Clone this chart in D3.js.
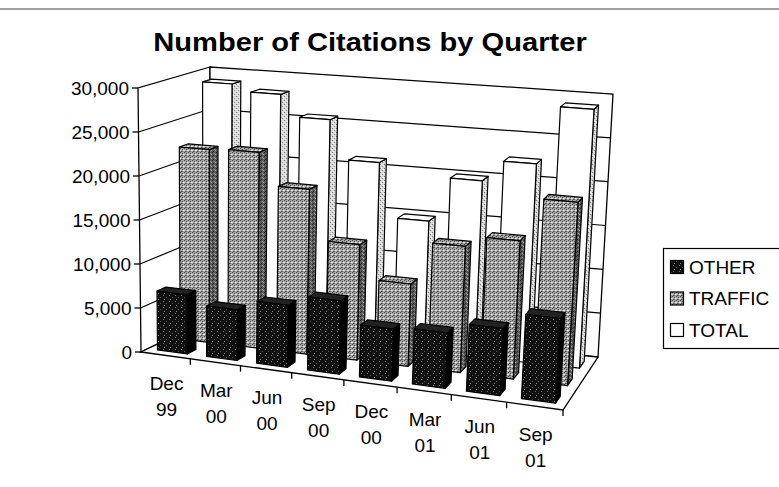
<!DOCTYPE html>
<html>
<head>
<meta charset="utf-8">
<script src="https://cdn.jsdelivr.net/npm/d3@7"></script>
<style>
  body { margin: 0; background: #fff; }
  text { font-family: Arial, "Liberation Sans", sans-serif; fill: #000; }
</style>
</head>
<body>
<svg id="chart" width="779" height="487"></svg>
<script>
// --- data ---
const categories = ["Dec 99", "Mar 00", "Jun 00", "Sep 00", "Dec 00", "Mar 01", "Jun 01", "Sep 01"];
const other   = [6700, 5700, 6900, 8100, 5700, 6000, 7200, 9000];
const traffic = [22200, 22400, 18700, 13000, 9200, 14000, 15200, 20000];
const total   = [28900, 28100, 25600, 21100, 14900, 20000, 22400, 29000];
const seriesNames = ["OTHER", "TRAFFIC", "TOTAL"];
const yTicks = [0, 5000, 10000, 15000, 20000, 25000, 30000];

// screen corners of the 3D plot box (front/back, bottom/top, left/right)
const box = {
  fbl: [141, 352], fbr: [563, 410], bbl: [210, 319], bbr: [598, 357],
  ftl: [138, 88],  ftr: [580, 125], btl: [210, 67],  btr: [613, 94]
};

const lerp = (a, b, t) => [a[0] + (b[0] - a[0]) * t, a[1] + (b[1] - a[1]) * t];
// small perspective squeeze along the category axis
const warp = u => u / (u + 1.08 * (1 - u));

// u: along categories, d: depth (0 front), h: height, all 0..1
function P(u, d, h) {
  u = warp(u);
  const b = lerp(lerp(box.fbl, box.fbr, u), lerp(box.bbl, box.bbr, u), d);
  const t = lerp(lerp(box.ftl, box.ftr, u), lerp(box.btl, box.btr, u), d);
  return lerp(b, t, h);
}
const poly = pts => "M" + pts.map(p => p[0].toFixed(1) + "," + p[1].toFixed(1)).join("L") + "Z";

const x = d3.scaleBand().domain(categories).range([0, 1]).paddingInner(0.39).paddingOuter(0.195);
const z = d3.scaleBand().domain(seriesNames).range([0, 1]).paddingInner(0.61).paddingOuter(0.305);
const y = d3.scaleLinear().domain([0, 30000]).range([0, 1]);

const svg = d3.select("#chart");

// --- textures (scanned halftone look) ---
const defs = svg.append("defs");
function texture(id, bg, dots, size) {
  const p = defs.append("pattern").attr("id", id)
    .attr("width", size).attr("height", size).attr("patternUnits", "userSpaceOnUse");
  p.append("rect").attr("width", size).attr("height", size).attr("fill", bg);
  dots.forEach(([dx, dy, c]) => p.append("rect").attr("x", dx).attr("y", dy)
    .attr("width", 1).attr("height", 1).attr("fill", c));
}
texture("grayTex", "#a4a4a4", [[0,0,"#4a4a4a"],[2,1,"#555"],[1,3,"#4a4a4a"],[3,2,"#eee"],[0,2,"#ddd"],[2,3,"#666"]], 4);
texture("grayDark", "#5c5c5c", [[0,0,"#222"],[2,1,"#999"],[1,3,"#222"],[3,2,"#aaa"]], 4);
texture("blackTex", "#111", [[1,1,"#777"],[4,3,"#555"],[2,5,"#888"]], 6);
texture("lightTex", "#d8d8d8", [[0,0,"#777"],[2,2,"#888"],[1,3,"#fff"],[3,1,"#fff"]], 4);

// outer frame
svg.append("line").attr("x1", 0).attr("x2", 779).attr("y1", 9).attr("y2", 9)
  .attr("stroke", "#444").attr("stroke-width", 1);

// title (the scan is a little stretched sideways)
svg.append("text")
  .attr("transform", "translate(370,51) scale(1.12,1)")
  .attr("text-anchor", "middle")
  .style("font-size", "26px").style("font-weight", "bold")
  .text("Number of Citations by Quarter");

// --- walls and floor ---
const walls = svg.append("g").attr("fill", "#fff").attr("stroke", "#000").attr("stroke-width", 1.3);
walls.append("path").attr("d", poly([P(0,0,0), P(0,0,1), P(0,1,1), P(0,1,0)]));
walls.append("path").attr("d", poly([P(0,1,0), P(0,1,1), P(1,1,1), P(1,1,0)]));
walls.append("path").attr("d", poly([P(0,0,0), P(1,0,0), P(1,1,0), P(0,1,0)]));

// gridlines on left and back walls
svg.append("g").selectAll("path")
  .data(yTicks.filter(t => t > 0 && t < 30000))
  .enter().append("path")
  .attr("d", t => "M" + [P(0,0,y(t)), P(0,1,y(t)), P(1,1,y(t))].map(p => p.join(",")).join("L"))
  .attr("fill", "none").attr("stroke", "#000").attr("stroke-width", 1.2);

// --- y axis ---
const yAxis = svg.append("g");
yTicks.forEach(t => {
  const p = P(0, 0, y(t));
  yAxis.append("line").attr("x1", p[0] - 6).attr("x2", p[0]).attr("y1", p[1]).attr("y2", p[1])
    .attr("stroke", "#000").attr("stroke-width", 1.3);
  yAxis.append("text").attr("x", p[0] - 9).attr("y", p[1]).attr("dy", "0.35em")
    .attr("text-anchor", "end").style("font-size", "19px")
    .text(d3.format(",")(t));
});

// --- x axis ticks and labels ---
const xAxis = svg.append("g");
const gap = (x.step() - x.bandwidth()) / 2;
categories.forEach((c, i) => {
  const p = P(x(c) - gap, 0, 0);
  if (i > 0) xAxis.append("line").attr("x1", p[0]).attr("x2", p[0]).attr("y1", p[1]).attr("y2", p[1] + 6)
    .attr("stroke", "#000").attr("stroke-width", 1.3);
  const m = P(x(c) + x.bandwidth() / 2, 0, 0);
  const parts = c.split(" ");
  parts.forEach((s, k) => xAxis.append("text")
    .attr("x", m[0] + 1).attr("y", m[1] + 28 + k * 26).attr("dy", "0.35em")
    .attr("text-anchor", "middle").style("font-size", "19px").text(s));
});
{
  const p = P(1, 0, 0);
  xAxis.append("line").attr("x1", p[0]).attr("x2", p[0]).attr("y1", p[1]).attr("y2", p[1] + 6)
    .attr("stroke", "#000").attr("stroke-width", 1.3);
}

// --- bars, back row first ---
const series = [
  { name: "TOTAL",   values: total,   front: "#fff",            side: "url(#lightTex)", top: "#fff" },
  { name: "TRAFFIC", values: traffic, front: "url(#grayTex)",   side: "url(#grayDark)", top: "url(#grayTex)" },
  { name: "OTHER",   values: other,   front: "url(#blackTex)",  side: "#000",           top: "#222" }
];

series.forEach(s => {
  const g = svg.append("g").attr("stroke", "#000").attr("stroke-width", 1.2).attr("stroke-linejoin", "round");
  const d0 = z(s.name), d1 = z(s.name) + z.bandwidth();
  categories.forEach((c, i) => {
    const u0 = x(c), u1 = x(c) + x.bandwidth(), h = y(s.values[i]);
    g.append("path").attr("fill", s.side)
      .attr("d", poly([P(u1,d0,0), P(u1,d1,0), P(u1,d1,h), P(u1,d0,h)]));
    g.append("path").attr("fill", s.top)
      .attr("d", poly([P(u0,d0,h), P(u1,d0,h), P(u1,d1,h), P(u0,d1,h)]));
    g.append("path").attr("fill", s.front)
      .attr("d", poly([P(u0,d0,0), P(u1,d0,0), P(u1,d0,h), P(u0,d0,h)]));
  });
});

// --- legend ---
const legend = svg.append("g");
legend.append("rect").attr("x", 663.5).attr("y", 248.5).attr("width", 130).attr("height", 100)
  .attr("fill", "#fff").attr("stroke", "#000").attr("stroke-width", 1.2);
const swatch = { OTHER: "url(#blackTex)", TRAFFIC: "url(#grayTex)", TOTAL: "#fff" };
seriesNames.forEach((n, i) => {
  const cy = 267 + i * 31.5;
  legend.append("rect").attr("x", 670.5).attr("y", cy - 6.5).attr("width", 13).attr("height", 13)
    .attr("fill", swatch[n]).attr("stroke", "#000").attr("stroke-width", 1.2);
  legend.append("text").attr("x", 689).attr("y", cy).attr("dy", "0.35em")
    .style("font-size", "19px").text(n);
});
</script>
</body>
</html>
